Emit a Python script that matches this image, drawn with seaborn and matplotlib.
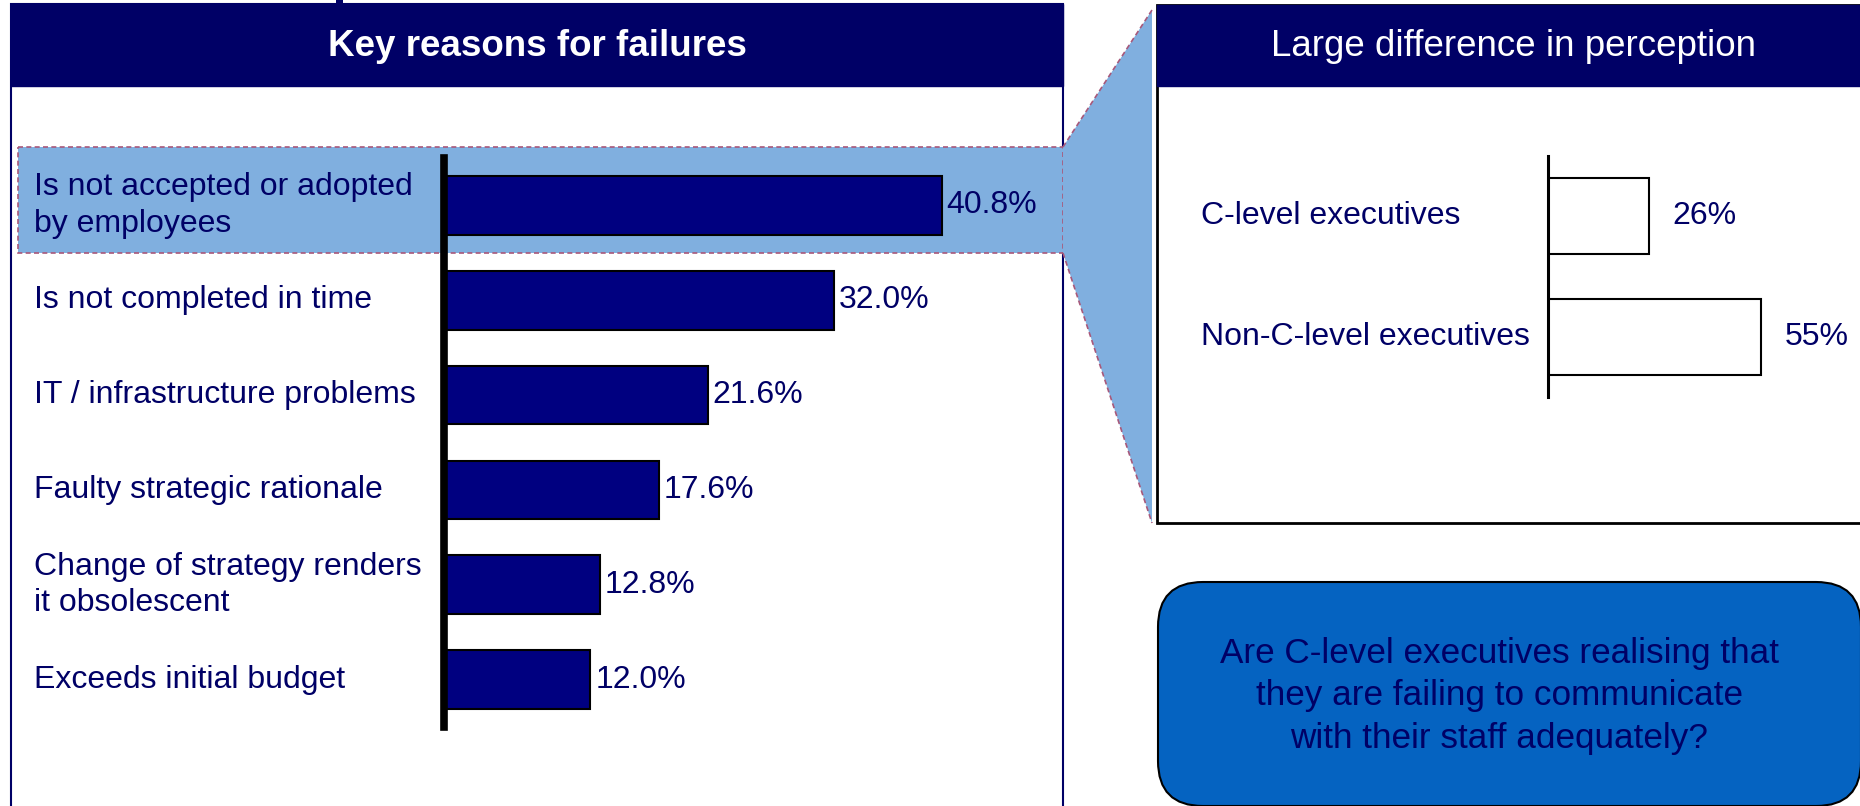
#!/usr/bin/env python3
"""Key reasons for failures, with the perception gap side panel
"""

import matplotlib
matplotlib.use('Agg')
import matplotlib.pyplot as plt
from matplotlib.patches import Rectangle, Polygon, FancyBboxPatch
from matplotlib.transforms import blended_transform_factory
import pandas as pd
import seaborn as sns


reasons = ['Is not accepted or adopted\nby employees',
           'Is not completed in time',
           'IT / infrastructure problems',
           'Faulty strategic rationale',
           'Change of strategy renders\nit obsolescent',
           'Exceeds initial budget']
reason_pct = [40.8, 32.0, 21.6, 17.6, 12.8, 12.0]

groups = ['C-level executives', 'Non-C-level executives']
group_pct = [26, 55]

left_title = 'Key reasons for failures'
right_title = 'Large difference in perception'
question = ('Are C-level executives realising that\n'
            'they are failing to communicate\n'
            'with their staff adequately?')

NAVY = '#000066'
BAR = '#000080'
LIGHT = '#80AFDF'
DASH = '#A8587A'
BOX = '#0563C1'

W, H = 1860, 806


def px_axes(fig, x0, y0, x1, y1):
    """Add an axes given in pixel coords (origin top-left)"""
    return fig.add_axes([x0 / W, 1 - y1 / H, (x1 - x0) / W, (y1 - y0) / H])


def main():
    sns.set_style('white')
    plt.rcParams['font.family'] = ['Liberation Sans', 'DejaVu Sans']

    fig = plt.figure(figsize=(W / 100, H / 100), dpi=100)

    # background layer in pixel units
    bg = fig.add_axes([0, 0, 1, 1])
    bg.set_xlim(0, W)
    bg.set_ylim(H, 0)
    bg.axis('off')

    # left panel
    bg.add_patch(Rectangle((10.5, 4), 1052.5, 830, facecolor='white', edgecolor=NAVY, lw=1.5))
    bg.add_patch(Rectangle((10.5, 4), 1052.5, 82, facecolor=NAVY, edgecolor=NAVY, lw=1))
    bg.add_patch(Rectangle((336, 0), 7, 5, facecolor=NAVY, edgecolor='none'))
    bg.text(537, 46, left_title, ha='center', va='center', fontsize=26.5,
            fontweight='bold', color='white')

    # highlight band + zoom connector
    bg.add_patch(Rectangle((17.5, 147), 1045.5, 106, facecolor=LIGHT, edgecolor=DASH,
                           lw=1.2, linestyle=(0, (3, 2))))
    bg.add_patch(Polygon([(1063, 147), (1152, 10), (1152, 523), (1063, 253)],
                         closed=True, facecolor=LIGHT, edgecolor='none'))
    bg.plot([1063, 1152], [147, 10], color=DASH, lw=1.2, linestyle=(0, (3, 2)))
    bg.plot([1063, 1152], [253, 523], color=DASH, lw=1.2, linestyle=(0, (3, 2)))

    # right panel
    bg.add_patch(Rectangle((1157, 5), 730, 518, facecolor='white', edgecolor='black', lw=2))
    bg.add_patch(Rectangle((1157, 5), 730, 81, facecolor=NAVY, edgecolor=NAVY, lw=1))
    bg.text(1513, 46, right_title, ha='center', va='center', fontsize=26.5, color='white')

    # question box
    bg.add_patch(FancyBboxPatch((1158, 582), 703, 224,
                                boxstyle='round,pad=0,rounding_size=45',
                                facecolor=BOX, edgecolor='black', lw=1.5))
    bg.text(1499, 696, question, ha='center', va='center', fontsize=25.3,
            color=NAVY, linespacing=1.37)

    # left bar chart
    df = pd.DataFrame({'reason': reasons, 'pct': reason_pct})
    ax = px_axes(fig, 444, 158, 1063, 727)
    ax.set_facecolor('none')
    sns.barplot(data=df, x='pct', y='reason', orient='h', color=BAR, saturation=1,
                edgecolor='black', linewidth=1.5, width=0.62, ax=ax)
    ax.set_xlim(0, (1063 - 444) / 12.2)
    ax.set_ylim(5.5, -0.5)
    ax.set_xticks([])
    ax.set_yticks([])
    ax.set_xlabel('')
    ax.set_ylabel('')
    for side in ['top', 'right', 'bottom']:
        ax.spines[side].set_visible(False)
    ax.spines['left'].set_linewidth(5.5)
    ax.spines['left'].set_color('black')
    ax.bar_label(ax.containers[0], fmt='%.1f%%', padding=3.5, fontsize=23, color=NAVY)
    trans = blended_transform_factory(bg.transData, ax.transData)
    for i, lab in enumerate(reasons):
        ax.text(34, i, lab, transform=trans, ha='left', va='center', fontsize=23,
                color=NAVY, linespacing=1.28)

    # right bar chart
    df2 = pd.DataFrame({'group': groups, 'pct': group_pct})
    ax2 = px_axes(fig, 1548, 156, 1860, 397)
    ax2.set_facecolor('none')
    sns.barplot(data=df2, x='pct', y='group', orient='h', color='white', saturation=1,
                edgecolor='black', linewidth=1.5, width=0.63, ax=ax2)
    ax2.set_xlim(0, 312 / 3.87)
    ax2.set_ylim(1.5, -0.5)
    ax2.set_xticks([])
    ax2.set_yticks([])
    ax2.set_xlabel('')
    ax2.set_ylabel('')
    for side in ['top', 'right', 'bottom']:
        ax2.spines[side].set_visible(False)
    ax2.spines['left'].set_linewidth(2.2)
    ax2.spines['left'].set_color('black')
    ax2.bar_label(ax2.containers[0], fmt='%d%%', padding=17, fontsize=23, color=NAVY)
    trans2 = blended_transform_factory(bg.transData, ax2.transData)
    for i, lab in enumerate(groups):
        ax2.text(1201, i, lab, transform=trans2, ha='left', va='center', fontsize=23,
                 color=NAVY)

    fig.savefig('out.png', dpi=100)


if __name__ == '__main__':
    main()
